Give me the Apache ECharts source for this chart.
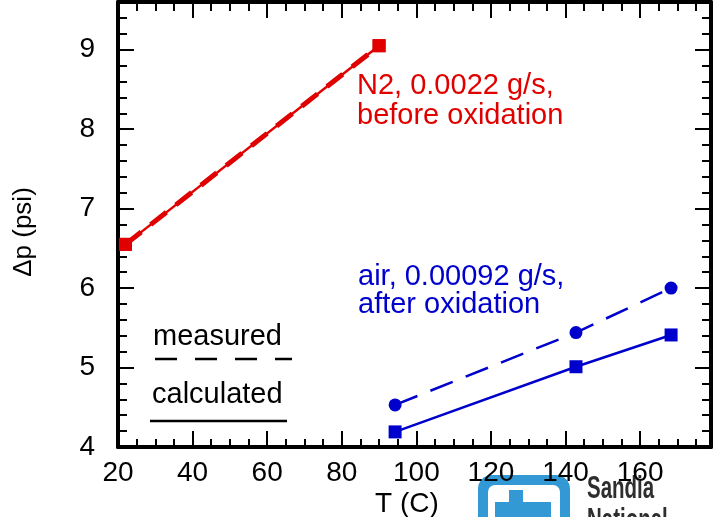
<!DOCTYPE html>
<html>
<head>
<meta charset="utf-8">
<script src="https://cdn.jsdelivr.net/npm/echarts@6/dist/echarts.min.js"></script>
<style>
  html, body { margin: 0; padding: 0; background: #fff; }
  #main { width: 719px; height: 517px; }
</style>
</head>
<body>
<div id="main"></div>
<script>
// values
const tempN2 = [22, 90];
const dpN2Calc = [6.55, 9.05];
const dpN2Meas = [6.55, 9.05];
const tempAir = [94.3, 142.8, 168.3];
const dpAirCalc = [4.19, 5.01, 5.41];
const dpAirMeas = [4.53, 5.44, 6.0];

const xMin = 20, xMax = 179;
const yMin = 4, yMax = 9.6;

const FONT = "'Liberation Sans', Arial, sans-serif";
const RED = "#e00000";
const BLUE = "#0000cc";

const zip = (xs, ys) => xs.map((x, i) => [x, ys[i]]);

// major axis (labels, long ticks) + minor axis (short ticks only)
function xAx(pos, interval, tickLen, showLine, showLabel) {
  return {
    type: "value", position: pos, min: xMin, max: xMax, interval: interval,
    axisLine: { show: showLine, onZero: false, lineStyle: { color: "#000", width: 4 } },
    axisTick: { show: true, inside: true, length: tickLen, lineStyle: { color: "#000", width: 2 } },
    axisLabel: {
      show: showLabel, color: "#000", fontSize: 28, fontFamily: FONT, margin: 12,
      showMaxLabel: false,
      formatter: (v) => (Math.abs(v % 20) < 1e-6 ? String(v) : ""),
    },
    splitLine: { show: false },
  };
}
function yAx(pos, interval, tickLen, showLine, showLabel) {
  return {
    type: "value", position: pos, min: yMin, max: yMax, interval: interval,
    axisLine: { show: showLine, onZero: false, lineStyle: { color: "#000", width: 4 } },
    axisTick: { show: true, inside: true, length: tickLen, lineStyle: { color: "#000", width: 2 } },
    axisLabel: {
      show: showLabel, color: "#000", fontSize: 28, fontFamily: FONT, margin: 23,
      showMaxLabel: false,
      formatter: (v) => (Math.abs(v - Math.round(v)) < 1e-6 ? String(Math.round(v)) : ""),
    },
    splitLine: { show: false },
  };
}

const chart = echarts.init(document.getElementById("main"));

const option = {
  backgroundColor: "#fff",
  animation: false,
  grid: { left: 118, right: 8, top: 2, bottom: 70 },
  xAxis: [
    xAx("bottom", 20, 16, true, true),
    xAx("bottom", 5, 8, false, false),
    xAx("top", 20, 16, true, false),
    xAx("top", 5, 9, false, false),
  ],
  yAxis: [
    yAx("left", 1, 16, true, true),
    yAx("left", 0.2, 9, false, false),
    yAx("right", 1, 16, true, false),
    yAx("right", 0.2, 9, false, false),
  ],
  series: [
    {
      name: "N2 measured", type: "line", xAxisIndex: 0, yAxisIndex: 0,
      data: zip(tempN2, dpN2Meas),
      symbol: "rect", symbolSize: 13,
      itemStyle: { color: RED },
      lineStyle: { color: RED, width: 5, type: [20, 12] },
    },
    {
      name: "N2 calculated", type: "line", xAxisIndex: 0, yAxisIndex: 0,
      data: zip(tempN2, dpN2Calc),
      symbol: "rect", symbolSize: 13,
      itemStyle: { color: RED },
      lineStyle: { color: RED, width: 2.5 },
    },
    {
      name: "air measured", type: "line", xAxisIndex: 0, yAxisIndex: 0,
      data: zip(tempAir, dpAirMeas),
      symbol: "circle", symbolSize: 13,
      itemStyle: { color: BLUE },
      lineStyle: { color: BLUE, width: 2.5, type: [24, 14] },
    },
    {
      name: "air calculated", type: "line", xAxisIndex: 0, yAxisIndex: 0,
      data: zip(tempAir, dpAirCalc),
      symbol: "rect", symbolSize: 13,
      itemStyle: { color: BLUE },
      lineStyle: { color: BLUE, width: 2.5 },
    },
  ],
  graphic: [
    // axis titles
    {
      type: "text", x: 24, y: 232, rotation: Math.PI / 2,
      style: { text: "\u0394p (psi)", fontSize: 26, fontFamily: FONT, fill: "#000", align: "center", verticalAlign: "middle" },
    },
    {
      type: "text", x: 407, y: 504,
      style: { text: "T (C)", fontSize: 28, fontFamily: FONT, fill: "#000", align: "center", verticalAlign: "middle" },
    },
    // annotations
    { type: "text", x: 357, y: 86, style: { text: "N2, 0.0022 g/s,", fontSize: 29, fontFamily: FONT, fill: RED, verticalAlign: "middle" } },
    { type: "text", x: 357, y: 116, style: { text: "before oxidation", fontSize: 29, fontFamily: FONT, fill: RED, verticalAlign: "middle" } },
    { type: "text", x: 358, y: 277, style: { text: "air, 0.00092 g/s,", fontSize: 29, fontFamily: FONT, fill: BLUE, verticalAlign: "middle" } },
    { type: "text", x: 358, y: 305, style: { text: "after oxidation", fontSize: 29, fontFamily: FONT, fill: BLUE, verticalAlign: "middle" } },
    // line style key
    { type: "text", x: 153, y: 337, style: { text: "measured", fontSize: 29, fontFamily: FONT, fill: "#000", verticalAlign: "middle" } },
    {
      type: "line", shape: { x1: 155, y1: 359, x2: 292, y2: 359 },
      style: { stroke: "#000", lineWidth: 2.5, lineDash: [22, 18] },
    },
    { type: "text", x: 152, y: 395, style: { text: "calculated", fontSize: 29, fontFamily: FONT, fill: "#000", verticalAlign: "middle" } },
    {
      type: "line", shape: { x1: 150, y1: 421, x2: 287, y2: 421 },
      style: { stroke: "#000", lineWidth: 2.5 },
    },
    // Sandia logo (cut off at the bottom edge)
    { type: "rect", shape: { x: 478, y: 475, width: 92, height: 70, r: 14 }, style: { fill: "#3399d4" } },
    { type: "rect", shape: { x: 488, y: 485, width: 72, height: 60, r: 7 }, style: { fill: "#fff" } },
    { type: "rect", shape: { x: 509, y: 490, width: 14, height: 13 }, style: { fill: "#3399d4" } },
    { type: "rect", shape: { x: 495, y: 502, width: 56, height: 20 }, style: { fill: "#3399d4" } },
    {
      type: "text", x: 587, y: 489, scaleX: 0.66,
      style: { text: "Sandia", fontSize: 31, fontFamily: FONT, fontWeight: "bold", fill: "#2e2e2e", verticalAlign: "middle" },
    },
    {
      type: "text", x: 587, y: 521, scaleX: 0.66,
      style: { text: "National", fontSize: 31, fontFamily: FONT, fontWeight: "bold", fill: "#2e2e2e", verticalAlign: "middle" },
    },
  ],
};

chart.setOption(option);
</script>
</body>
</html>
